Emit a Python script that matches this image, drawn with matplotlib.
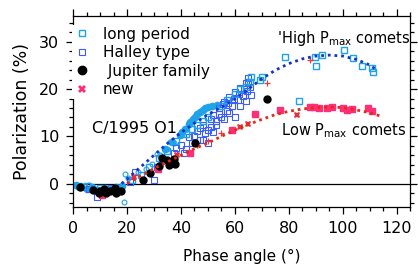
"""
Polarization vs phase angle for comets (long period, Halley type,
Jupiter family and new comets) with the high / low Pmax trend curves.
"""

import matplotlib
matplotlib.use('Agg')
import matplotlib.pyplot as plt
from matplotlib.ticker import MultipleLocator

plt.rcParams['font.family'] = 'DejaVu Sans'

# long period comets, open squares
lp_x = [2, 5, 10, 22, 25, 28, 32, 35, 38, 42, 46, 50, 55, 60, 64, 65.5, 66, 69.4, 70.2,
        78.6, 83.8, 89.8, 90.1, 92.2, 100.5, 103.9, 107.3, 110.7, 111.3, 44, 48, 57, 62]
lp_y = [-0.6, -0.5, -1.0, 0.8, 1.8, 3.5, 5.5, 7.0, 9.0, 10.5, 12.5, 14.0, 16.5, 19.0, 20.5, 21.5, 22.5, 22.0, 22.6,
        26.7, 17.5, 26.7, 24.8, 27.2, 28.2, 26.5, 24.8, 24.4, 23.6, 11.6, 13.2, 17.8, 20.0]
# long period comets, small open circles
lpc_x = [4, 6, 18.7, 19.4, 20.5, 24, 27, 29.3, 32.3, 34.8, 37.3, 40.4, 31, 36]
lpc_y = [-0.5, -0.3, -3.9, 2.1, 1.2, 2.5, 3.0, 4.2, 6.0, 7.4, 8.5, 10.2, 6.2, 8.9]
# C/1995 O1 and other long period comets, filled circles
hb_x = [1, 3, 5, 7, 9, 12, 14, 16, 18, 34.2, 36.7, 39.7, 40.4, 41.5, 42.8, 43.4, 44.5,
        45.3, 45.9, 47.1, 48, 49, 50.1, 51.5, 53.3]
hb_y = [-0.4, -0.8, -1.1, -0.8, -1.3, -0.9, -1.2, -0.7, -0.5, 7.4, 8.8, 10.2, 10.9, 11.5, 12.7, 13.0, 13.6,
        14.1, 14.8, 15.2, 15.6, 15.9, 16.2, 16.5, 16.6]
# Halley type comets
ht_x = [3, 6, 8.9, 11, 14, 16, 21, 23.1, 29.9, 31, 33, 35, 36, 37.3, 38, 40, 41, 43, 44, 46, 47.1,
        48, 48.3, 49, 50.1, 51, 52, 53, 54, 55, 56, 57, 58, 59, 60, 61, 62, 63, 64, 64.5, 65,
        65.5, 66, 62, 58, 60, 52, 42, 45, 47, 50, 53, 55.5, 57.5, 59.5, 61.5, 63.5, 64, 65, 56, 54, 51]
ht_y = [-0.8, -1.2, -2.8, -1.6, -1.0, -1.8, 0.3, 2.5, 0.8, 3.5, 5.2, 6.8, 4.8, 6.4, 7.5, 8.2, 6.5, 9.8, 8.7, 11.2, 9.2,
        12.5, 9.2, 10.8, 8.5, 12.0, 14.6, 13.2, 16.0, 14.2, 17.3, 15.4, 18.4, 16.5, 19.4, 17.6, 20.2, 18.5, 21.2, 19.6, 22.3,
        20.5, 18.8, 16.4, 15.0, 14.0, 11.0, 7.4, 10.0, 11.8, 11.4, 12.4, 16.8, 17.0, 18.0, 19.0, 20.0, 17.4, 21.6, 13.6, 14.8, 13.6]
# Jupiter family comets
jf_x = [2.4, 7.4, 9.5, 10.1, 11.5, 12.3, 13.5, 15.7, 15.9, 17.8, 26.1, 28.6, 31.7, 33, 34.8,
        35.5, 36.7, 37.9, 37.3, 45.3, 71.8]
jf_y = [-0.7, -1.4, -2.0, -1.6, -1.2, -1.9, -1.5, -0.9, -2.0, -1.5, 0.7, 2.2, 3.7, 5.5, 5.1,
        4.0, 4.6, 4.2, 5.3, 8.6, 17.9]
# new comets: filled squares, crosses and small plus signs
nw_x = [10.7, 31.6, 43.4, 58.9, 67.5, 76.8, 87.9, 89.5, 91.2, 94, 96, 100.1, 101.5, 103.5, 109.4, 110.7]
nw_y = [-2.5, 3.0, 6.4, 11.4, 14.8, 15.5, 16.2, 16.3, 16.0, 16.1, 16.2, 15.9, 15.5, 15.8, 16.1, 15.4]
nwx_x = [22.4, 38.5, 62, 64.9, 83]
nwx_y = [1.4, 6.1, 12.0, 12.7, 14.5]
nwp_x = [46, 50, 55, 71.8, 87.9]
nwp_y = [8.1, 9.0, 10.8, 21.2, 26.1]

# trend curves
hi_x = [18, 25, 30, 35, 40, 45, 50, 55, 60, 65, 70, 75, 80, 85, 90, 95, 100, 105, 110, 112]
hi_y = [0.0, 3.5, 6.0, 8.5, 10.8, 12.8, 14.6, 16.2, 17.9, 20.0, 22.2, 24.0, 25.4, 26.4, 27.0, 27.2, 27.0, 26.3, 25.1, 24.3]
lo_x = [20, 25, 30, 35, 40, 45, 50, 55, 60, 65, 70, 75, 80, 85, 90, 95, 100, 105, 110, 114]
lo_y = [0.0, 1.6, 3.2, 4.6, 6.0, 7.4, 8.6, 10.0, 11.3, 12.5, 13.6, 14.6, 15.3, 15.8, 16.1, 16.2, 16.1, 15.6, 15.0, 14.3]

c_lp = '#1fa3e8'
c_ht = '#3d5cff'
c_new = '#ff2e78'

fig = plt.figure(figsize=(4.18, 2.65), dpi=100)
ax = fig.add_axes([0.175, 0.218, 0.806, 0.722])

ax.axhline(0, color='k', lw=0.9, zorder=1)

ax.plot(lpc_x, lpc_y, 'o', ms=3.5, mfc='none', mec=c_lp, mew=0.8, zorder=2)
ax.plot(hb_x, hb_y, 'o', ms=4.5, color=c_lp, zorder=2)
ax.plot(ht_x, ht_y, 's', ms=4.5, mfc='none', mec=c_ht, mew=0.8, zorder=3)
ax.plot(lp_x, lp_y, 's', ms=4, mfc='none', mec=c_lp, mew=1.0, zorder=3)
ax.plot(nw_x, nw_y, 's', ms=4, color=c_new, zorder=4)
ax.plot(nwx_x, nwx_y, 'X', ms=5, color='#e8303a', mew=0, zorder=4)
ax.plot(nwp_x, nwp_y, '+', ms=4, color='#f03a3a', mew=0.9, zorder=4)
ax.plot(jf_x, jf_y, 'o', ms=5, color='k', zorder=5)

ax.plot(hi_x, hi_y, color='#1434c8', lw=2, ls=(0, (1, 1.4)), zorder=6)
ax.plot(lo_x, lo_y, color='#e22a14', lw=2, ls=(0, (1, 1.4)), zorder=6)

# legend handles
h1, = ax.plot([], [], 's', ms=5, mfc='none', mec=c_lp, mew=1.0)
h2, = ax.plot([], [], 's', ms=5, mfc='none', mec=c_ht, mew=0.8)
h3, = ax.plot([], [], 'o', ms=6, color='k')
h4, = ax.plot([], [], 'X', ms=6, color=c_new, mew=0)
leg = ax.legend([h1, h2, h3, h4], ['long period', 'Halley type', ' Jupiter family', 'new'],
                loc='upper left', bbox_to_anchor=(-0.004, 0.955), fontsize=11,
                labelspacing=0.22, handlelength=1.0, handletextpad=0.9,
                borderpad=0.15, borderaxespad=0, frameon=True, fancybox=False)
leg.get_frame().set_edgecolor('none')
leg.get_frame().set_facecolor('white')
leg.get_frame().set_alpha(1)
leg.set_zorder(10)

ax.text(7, 11.6, 'C/1995 O1', fontsize=11.5, va='center')
ax.text(75.5, 30.8, "'High P$_{\\mathregular{max}}$ comets", fontsize=10.5, va='center')
ax.text(77, 11.2, "Low P$_{\\mathregular{max}}$ comets", fontsize=10.5, va='center')

ax.set_xlim(0, 125)
ax.set_ylim(-5, 35.5)
ax.xaxis.set_major_locator(MultipleLocator(20))
ax.xaxis.set_minor_locator(MultipleLocator(5))
ax.yaxis.set_major_locator(MultipleLocator(10))
ax.yaxis.set_minor_locator(MultipleLocator(2))
ax.tick_params(which='both', direction='out', top=True, right=True, labelsize=11.5, width=0.9)
ax.tick_params(which='major', length=5, pad=5)
ax.tick_params(which='minor', length=3)
for s in ax.spines.values():
    s.set_linewidth(0.9)

ax.set_xlabel('Phase angle (°)', fontsize=11, labelpad=9)
ax.set_ylabel('Polarization (%)', fontsize=12.5, labelpad=6)

fig.savefig('out.png', dpi=100)
